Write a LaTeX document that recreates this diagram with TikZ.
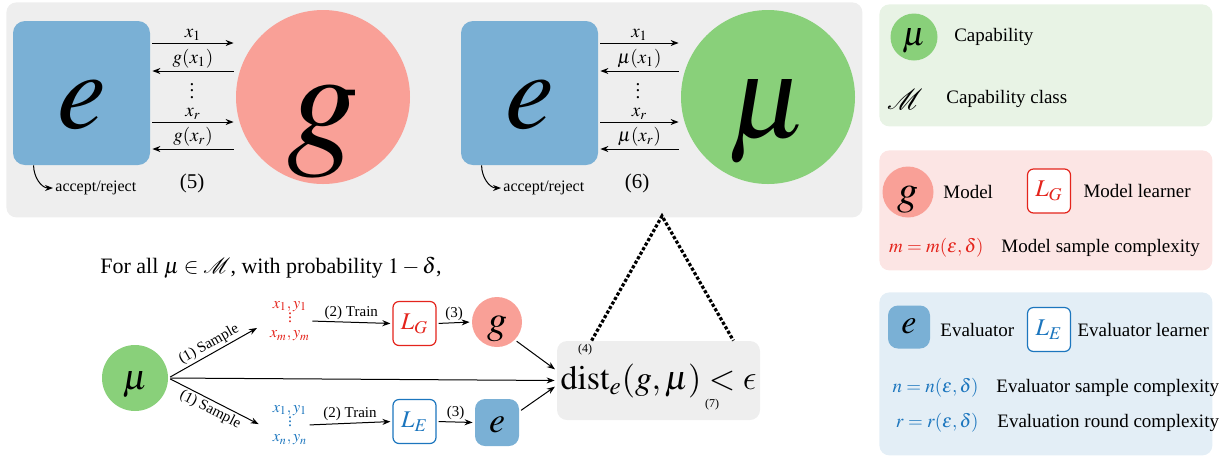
\documentclass[tikz,border=0pt]{standalone}
\IfFileExists{mathptmx.sty}{\usepackage{mathptmx}}{}
\usepackage[no-math]{fontspec}
\setmainfont{Liberation Serif}
\IfFileExists{mathrsfs.sty}{\usepackage{mathrsfs}}{\let\mathscr\mathcal}
\usetikzlibrary{arrows.meta,positioning}
\definecolor{evalblue}  {RGB}{122,176,213}
\definecolor{modelred}  {RGB}{249,160,151}
\definecolor{capgreen}  {RGB}{137,208,122}
\definecolor{lrnred}    {RGB}{228, 36, 28}
\definecolor{lrnblue}   {RGB}{ 28,118,190}
\definecolor{panelgray} {RGB}{238,238,238}
\definecolor{leggreen}  {RGB}{232,243,229}
\definecolor{legred}    {RGB}{252,229,228}
\definecolor{legblue}   {RGB}{227,238,246}
% letter sitting below the node centre, and a tight column of dots
\newcommand{\sunk}[2]{\raisebox{-#1}[0pt][0pt]{$#2$}}
\newcommand{\dotcol}[1]{\vbox{\baselineskip#1\lineskiplimit0pt\hbox{.}\hbox{.}\hbox{.}}}
\newcommand{\lunate}{\mbox{\usefont{OML}{cmm}{m}{it}\char"0F}}

\begin{document}
\begin{tikzpicture}[
  x=0.5pt, y=-0.5pt,
  every node/.style={inner sep=1pt},
  panel/.style={rounded corners=5pt, anchor=north west, inner sep=0pt},
  evalbox/.style={fill=evalblue, rounded corners=6pt, inner sep=0pt},
  modeldisc/.style={circle, fill=modelred, inner sep=0pt},
  capdisc/.style={circle, fill=capgreen, inner sep=0pt},
  learner/.style={draw, line width=0.6pt, fill=white, rounded corners=3pt, minimum width=21.5pt, minimum height=22pt, inner sep=0pt, font=\fontsize{12}{12}\selectfont},
  msg/.style={font=\fontsize{9.5}{10}\selectfont},
  small/.style={font=\fontsize{7.5}{8}\selectfont},
  samp/.style={align=center, inner sep=0pt, font=\fontsize{8}{7.4}\selectfont},
  legtext/.style={font=\fontsize{9.5}{10}\selectfont, anchor=west},
  arrow/.style={-{Stealth[length=4pt,width=3pt]}, line width=0.5pt, shorten <=1pt, shorten >=1pt},
  apexline/.style={densely dotted, line width=1.6pt}
]
  \useasboundingbox (0,0) rectangle (1222,457);

  % Panels
  \node (top) [panel, fill=panelgray, minimum width=428pt, minimum height=107.5pt] at (6,2) {};
  \node (legCap) [panel, fill=leggreen, minimum width=166.5pt, minimum height=61pt] at (879,4) {};
  \node (legModel) [panel, fill=legred, minimum width=166.5pt, minimum height=60pt] at (879,150) {};
  \node (legEval) [panel, fill=legblue, minimum width=166.5pt, minimum height=81.5pt] at (879,292) {};

  % Evaluator against model (5)
  \node (eA) [evalbox, minimum width=68.5pt, minimum height=72pt] at (81.5,93) {\fontsize{55}{55}\selectfont\sunk{17.5pt}{e}};
  \node (gA) [modeldisc, minimum size=87pt] at (323,97) {\fontsize{72}{72}\selectfont\sunk{25.5pt}{g}};
  \draw [arrow] ([yshift=25pt]eA.east) -- node[msg, above] {$x_1$} ([yshift=25pt]eA.east -| gA.west);
  \draw [arrow] ([yshift=11pt]eA.east -| gA.west) -- node[msg, above] {$g(x_1)$} ([yshift=11pt]eA.east);
  \node (vdA) [msg] at (192,91) {\dotcol{3.4pt}};
  \draw [arrow] ([yshift=-14.5pt]eA.east) -- node[msg, above] {$x_r$} ([yshift=-14.5pt]eA.east -| gA.west);
  \draw [arrow] ([yshift=-28pt]eA.east -| gA.west) -- node[msg, above] {$g(x_r)$} ([yshift=-28pt]eA.east);
  \node (numA) [font=\fontsize{10.5}{11}\selectfont] at (192,183) {(5)};
  \node (accA) [font=\fontsize{8}{8}\selectfont, anchor=west] at (53,188) {accept/reject};
  \draw [arrow, shorten <=0pt, shorten >=0pt] ([xshift=10.5pt]eA.south west) to[out=-90, in=180] (accA.west);

  % Evaluator against capability (6)
  \node (eB) [evalbox, minimum width=68.5pt, minimum height=72pt] at (529.5,93) {\fontsize{55}{55}\selectfont\sunk{17.5pt}{e}};
  \node (muA) [capdisc, minimum size=87pt] at (768,97) {\fontsize{58}{58}\selectfont\sunk{20pt}{\mu}};
  \draw [arrow] ([yshift=25pt]eB.east) -- node[msg, above] {$x_1$} ([yshift=25pt]eB.east -| muA.west);
  \draw [arrow] ([yshift=11pt]eB.east -| muA.west) -- node[msg, above] {$\mu(x_1)$} ([yshift=11pt]eB.east);
  \node (vdB) [msg] at (638,91) {\dotcol{3.4pt}};
  \draw [arrow] ([yshift=-14.5pt]eB.east) -- node[msg, above] {$x_r$} ([yshift=-14.5pt]eB.east -| muA.west);
  \draw [arrow] ([yshift=-28pt]eB.east -| muA.west) -- node[msg, above] {$\mu(x_r)$} ([yshift=-28pt]eB.east);
  \node (numB) [font=\fontsize{10.5}{11}\selectfont] at (637,183) {(6)};
  \node (accB) [font=\fontsize{8}{8}\selectfont, anchor=west] at (501,188) {accept/reject};
  \draw [arrow, shorten <=0pt, shorten >=0pt] ([xshift=10.5pt]eB.south west) to[out=-90, in=180] (accB.west);

  % Learning pipeline
  \node (forall) [anchor=west, font=\fontsize{11}{12}\selectfont] at (98,268) {For all $\mu\in\mathscr{M}$, with probability $1-\delta$,};
  \node (muB) [capdisc, minimum size=33pt] at (135,378) {\fontsize{18}{18}\selectfont\sunk{5.5pt}{\mu}};
  \node (sampG) [samp, text=lrnred] at (290,321) {$x_1,y_1$\\\dotcol{2.2pt}\\$x_m,y_m$};
  \node (sampE) [samp, text=lrnblue] at (290,425) {$x_1,y_1$\\\dotcol{2.2pt}\\$x_n,y_n$};
  \node (LG) [learner, draw=lrnred, text=lrnred] at (414.5,323.5) {$L_G$};
  \node (LE) [learner, draw=lrnblue, text=lrnblue] at (414.5,421.5) {$L_E$};
  \node (gB) [modeldisc, minimum size=25pt] at (497,322) {\fontsize{20}{20}\selectfont\sunk{5.5pt}{g}};
  \node (eC) [evalbox, rounded corners=5pt, minimum width=22pt, minimum height=23.5pt] at (497,422.5) {\fontsize{18}{18}\selectfont\sunk{5pt}{e}};
  \node (dist) [fill=panelgray, rounded corners=5pt, inner sep=0pt, minimum width=101.5pt, minimum height=39.5pt, font=\fontsize{17}{17}\selectfont] at (658.5,380.5) {$\mathrm{dist}_e(g,\mu) < \lunate$};
  \node (numC) [font=\fontsize{6}{6}\selectfont] at (585,350) {(4)};
  \node (numD) [font=\fontsize{6}{6}\selectfont] at (712,405) {(7)};
  \coordinate (apex) at (662,216);

  \draw [arrow] (muB.east) -- node[small, above, sloped] {(1) Sample} ([shift={(-11,6)}]sampG.west);
  \draw [arrow] (muB.east) -- node[small, below, sloped] {(1) Sample} ([xshift=-6pt]sampE.west);
  \draw [arrow] (muB.east) -- (dist.west);
  \draw [arrow] (sampG.east) -- node[small, above] {(2) Train} (LG.west);
  \draw [arrow] (sampE.east) -- node[small, above] {(2) Train} (LE.west);
  \draw [arrow] (LG.east) -- node[small, above] {(3)} (gB.west);
  \draw [arrow] (LE.east) -- node[small, above] {(3)} (eC.west);
  \draw [arrow] (gB.south east) -- ([yshift=5pt]dist.west);
  \draw [arrow] ([yshift=5.5pt]eC.east) -- ([yshift=-2.5pt]dist.west);
  \draw [apexline] ([xshift=17.5pt]dist.north west) -- (apex) -- ([xshift=-13.5pt]dist.north east);

  % Legend
  \node (legMu) [capdisc, minimum size=23.5pt] at (914,37) {\fontsize{17}{17}\selectfont\sunk{4pt}{\mu}};
  \node (capLbl) [legtext, right=7pt of legMu] {Capability};
  \node (legM) [font=\fontsize{15}{15}\selectfont] at (905,99) {$\mathscr{M}$};
  \node (capClsLbl) [legtext] at (944,99) {Capability class};

  \node (legG) [modeldisc, minimum size=25.5pt] at (908,192) {\fontsize{21}{21}\selectfont\sunk{6pt}{g}};
  \node (modelLbl) [legtext] at (941,192) {Model};
  \node (legLG) [learner, draw=lrnred, text=lrnred] at (1049,191) {$L_G$};
  \node (lrnGLbl) [legtext, right=5pt of legLG] {Model learner};
  \node (mEq) [msg, anchor=east, text=lrnred] at (986,248) {$m=m(\varepsilon,\delta)$};
  \node (mLbl) [legtext] at (999,248) {Model sample complexity};

  \node (legE) [evalbox, rounded corners=5pt, minimum width=21pt, minimum height=21.5pt] at (909,327) {\fontsize{17}{17}\selectfont\sunk{3pt}{e}};
  \node (evalLbl) [legtext] at (938,330) {Evaluator};
  \node (legLE) [learner, draw=lrnblue, text=lrnblue] at (1049,329.5) {$L_E$};
  \node (lrnELbl) [legtext, right=2pt of legLE] {Evaluator learner};
  \node (nEq) [msg, anchor=east, text=lrnblue] at (981,388) {$n=n(\varepsilon,\delta)$};
  \node (nLbl) [legtext] at (994,388) {Evaluator sample complexity};
  \node (rEq) [msg, anchor=east, text=lrnblue] at (981,423) {$r=r(\varepsilon,\delta)$};
  \node (rLbl) [legtext] at (995,423) {Evaluation round complexity};
\end{tikzpicture}
\end{document}
